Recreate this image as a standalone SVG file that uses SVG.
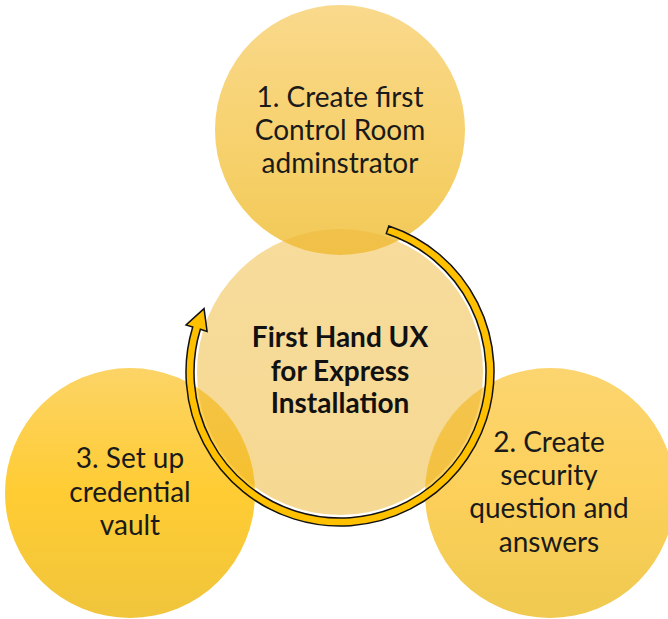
<svg xmlns="http://www.w3.org/2000/svg" width="668" height="619" viewBox="0 0 668 619">
  <defs>
    <linearGradient id="gTop" x1="0" y1="0" x2="0" y2="1">
      <stop offset="0" stop-color="#F9D98C"/>
      <stop offset="0.5" stop-color="#F7D270"/>
      <stop offset="1" stop-color="#F2C957"/>
    </linearGradient>
    <linearGradient id="gLeft" x1="0" y1="0" x2="0" y2="1">
      <stop offset="0" stop-color="#FCD466"/>
      <stop offset="0.5" stop-color="#FFCC33"/>
      <stop offset="1" stop-color="#F0C53C"/>
    </linearGradient>
    <linearGradient id="gRight" x1="0" y1="0" x2="0" y2="1">
      <stop offset="0" stop-color="#FCD570"/>
      <stop offset="0.5" stop-color="#FCD05A"/>
      <stop offset="1" stop-color="#EFC950"/>
    </linearGradient>
    <linearGradient id="gCenter" x1="0" y1="0" x2="0" y2="1">
      <stop offset="0" stop-color="#EFB838" stop-opacity="0.5"/>
      <stop offset="1" stop-color="#EBB224" stop-opacity="0.5"/>
    </linearGradient>
  </defs>
  <style>
    .lbl { font-family: Lato, "Open Sans", "Liberation Sans", sans-serif; font-size: 28px; fill: #1a1a1a; text-anchor: middle; }
    .hub { font-family: Lato, "Open Sans", "Liberation Sans", sans-serif; font-size: 28px; font-weight: bold; fill: #111; text-anchor: middle; }
    .ring { fill: #FFC000; stroke: #111; stroke-width: 1.5; stroke-linejoin: miter; }
  </style>

  <!-- outer step circles -->
  <g id="step1">
    <circle cx="340" cy="130" r="125" fill="url(#gTop)"/>
  </g>
  <g id="step3">
    <circle cx="130" cy="493" r="125" fill="url(#gLeft)"/>
  </g>
  <g id="step2">
    <circle cx="550" cy="493" r="125" fill="url(#gRight)"/>
  </g>

  <!-- translucent hub -->
  <g id="hub">
    <circle cx="340" cy="372" r="143" fill="url(#gCenter)"/>
  </g>

  <!-- circular arrow around the hub -->
  <g id="connectors">
    <path class="ring" d="M388.86,225.96 A154,154 0 1 1 192.73,326.97 L186.04,324.93 L204.05,308.61 L207.07,331.36 L200.38,329.31 A146,146 0 1 0 386.33,233.55 Z"/>
  </g>

  <!-- labels -->
  <g id="labels">
    <text class="lbl" x="340" y="107">1. Create first</text>
    <text class="lbl" x="340" y="140">Control Room</text>
    <text class="lbl" x="340" y="173">adminstrator</text>

    <text class="hub" x="340" y="347">First Hand UX</text>
    <text class="hub" x="340" y="381">for Express</text>
    <text class="hub" x="340" y="413">Installation</text>

    <text class="lbl" x="549" y="452">2. Create</text>
    <text class="lbl" x="549" y="485">security</text>
    <text class="lbl" x="549" y="518">question and</text>
    <text class="lbl" x="549" y="552">answers</text>

    <text class="lbl" x="130" y="468">3. Set up</text>
    <text class="lbl" x="130" y="502">credential</text>
    <text class="lbl" x="130" y="535">vault</text>
  </g>
</svg>
